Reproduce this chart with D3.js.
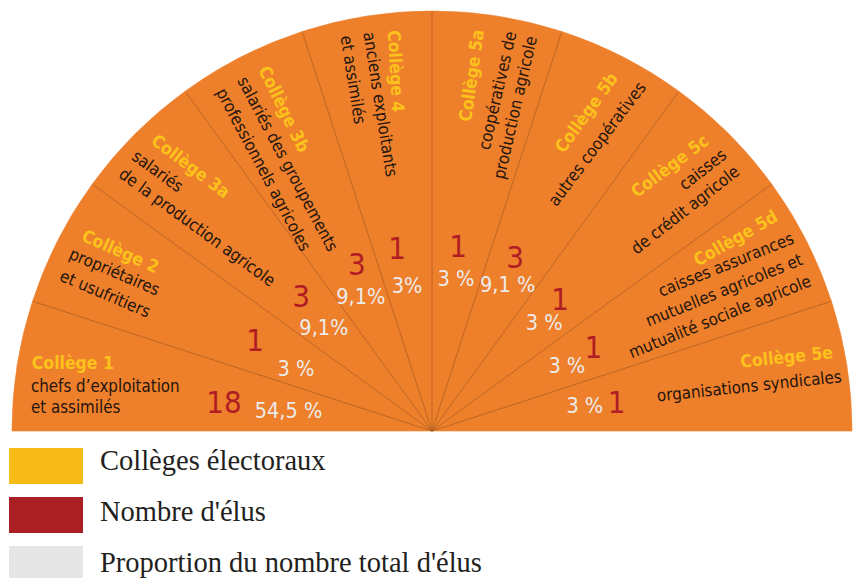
<!DOCTYPE html>
<html>
<head>
<meta charset="utf-8">
<script src="https://cdn.jsdelivr.net/npm/d3@7"></script>
<style>
  body { margin: 0; background: #fff; }
  svg { display: block; }
</style>
</head>
<body>
<div id="wrapper"></div>
<script>
// DATA
const colleges = ["Collège 1", "Collège 2", "Collège 3a", "Collège 3b", "Collège 4",
  "Collège 5a", "Collège 5b", "Collège 5c", "Collège 5d", "Collège 5e"];
const descriptions = [
  ["chefs d’exploitation", "et assimilés"],
  ["propriétaires", "et usufritiers"],
  ["salariés", "de la production agricole"],
  ["salariés des groupements", "professionnels agricoles"],
  ["anciens exploitants", "et assimilés"],
  ["coopératives de", "production agricole"],
  ["autres coopératives"],
  ["caisses", "de crédit agricole"],
  ["caisses assurances", "mutuelles agricoles et", "mutualité sociale agricole"],
  ["organisations syndicales"]
];
const elus = [18, 1, 3, 3, 1, 1, 3, 1, 1, 1];
const pctLabels = ["54,5 %", "3 %", "9,1%", "9,1%", "3%", "3 %", "9,1 %", "3 %", "3 %", "3 %"];
const legendLabels = ["Collèges électoraux", "Nombre d'élus", "Proportion du nombre total d'élus"];

// LAYOUT (angle in degrees from the left edge, radius in px, rotation in degrees)
const titleLayout = [
  [8.8, 405, 0, "start"], [28.5, 400, 24, "start"], [45.6, 403, 37, "start"],
  [64.3, 401, 64, "start"], [83.7, 403, 87, "start"], [97.4, 404, -82, "end"],
  [117.9, 399, -54, "end"], [134, 400, -37, "end"], [148.7, 406, -30, "end"],
  [169.7, 408, -6, "end"]
];
const descLayout = [
  [5.6, 403, 0, 21.5], [25.4, 403, 23, 24], [42.1, 406, 36, 22],
  [60.9, 401, 62, 24], [80.2, 404, 81, 23], [102, 407, -77, 21],
  [122, 405, -53, 22], [137.2, 403, -38, 21], [152.6, 409, -22, 23],
  [173.2, 413, -6, 24]
];
const numLayout = [
  [7.9, 210], [27.2, 199], [45.9, 188], [65.8, 183], [79.2, 186],
  [98, 187], [115.5, 193], [134.1, 184], [152.4, 182], [171, 187]
];
const pctLayout = [
  [8.3, 145], [24.9, 150], [43.9, 150], [62.1, 152], [80.3, 148],
  [98.9, 155], [117.3, 165], [136, 156], [154, 150], [170.4, 155]
];

const colors = {
  orange: "#EE7F2B",
  divider: "#A2571F",
  yellow: "#FCC21C",
  red: "#B01E23",
  grey: "#ECECEC",
  text: "#24160F",
  legendYellow: "#F6BB17",
  legendRed: "#A91F24",
  legendGrey: "#E6E6E6"
};
const sansFont = "'DejaVu Sans Condensed', 'Liberation Sans Narrow', Roboto, sans-serif";

const width = 860, height = 578;
const center = { x: 432, y: 431 };
const radius = 420;

const svg = d3.select("#wrapper").append("svg")
  .attr("width", width)
  .attr("height", height);

svg.append("rect").attr("width", width).attr("height", height).attr("fill", "#fff");

const chart = svg.append("g")
  .attr("transform", `translate(${center.x},${center.y})`);

// SCALES
const angleScale = d3.scaleLinear().domain([0, 180]).range([-Math.PI / 2, Math.PI / 2]);
const polar = (deg, r) => d3.pointRadial(angleScale(deg), r);

const pie = d3.pie().value(() => 1).sort(null)
  .startAngle(-Math.PI / 2).endAngle(Math.PI / 2);
const arcs = pie(colleges);
const arc = d3.arc().innerRadius(0).outerRadius(radius);

// SECTORS
chart.selectAll(".sector")
  .data(arcs)
  .join("path")
  .attr("class", "sector")
  .attr("d", arc)
  .attr("fill", colors.orange)
  .attr("stroke", colors.orange)
  .attr("stroke-width", 0.6);

// divider lines
chart.selectAll(".divider")
  .data(arcs.slice(1))
  .join("line")
  .attr("class", "divider")
  .attr("x1", 0).attr("y1", 0)
  .attr("x2", d => d3.pointRadial(d.startAngle, radius - 1)[0])
  .attr("y2", d => d3.pointRadial(d.startAngle, radius - 1)[1])
  .attr("stroke", colors.divider)
  .attr("stroke-opacity", 0.75)
  .attr("stroke-width", 0.9);

// TITLES
chart.selectAll(".title")
  .data(colleges)
  .join("text")
  .attr("class", "title")
  .attr("transform", (d, i) => {
    const [x, y] = polar(titleLayout[i][0], titleLayout[i][1]);
    return `translate(${x},${y}) rotate(${titleLayout[i][2]})`;
  })
  .attr("text-anchor", (d, i) => titleLayout[i][3])
  .attr("font-family", sansFont)
  .attr("font-weight", "bold")
  .attr("font-size", 17.5)
  .attr("fill", colors.yellow)
  .text(d => d);

// DESCRIPTIONS
const descGroups = chart.selectAll(".desc")
  .data(descriptions)
  .join("text")
  .attr("class", "desc")
  .attr("transform", (d, i) => {
    const [x, y] = polar(descLayout[i][0], descLayout[i][1]);
    return `translate(${x},${y}) rotate(${descLayout[i][2]})`;
  })
  .attr("text-anchor", (d, i) => titleLayout[i][3])
  .attr("font-family", sansFont)
  .attr("font-size", 16.8)
  .attr("fill", colors.text);

descGroups.each(function(lines, i) {
  d3.select(this).selectAll("tspan")
    .data(lines)
    .join("tspan")
    .attr("x", 0)
    .attr("y", (l, j) => j * descLayout[i][3])
    .text(l => l);
});

// NUMBERS
chart.selectAll(".elus")
  .data(elus)
  .join("text")
  .attr("class", "elus")
  .attr("x", (d, i) => polar(numLayout[i][0], numLayout[i][1])[0])
  .attr("y", (d, i) => polar(numLayout[i][0], numLayout[i][1])[1])
  .attr("dy", "0.36em")
  .attr("text-anchor", "middle")
  .attr("font-family", sansFont)
  .attr("font-size", 31)
  .attr("fill", colors.red)
  .text(d => d);

chart.selectAll(".pct")
  .data(pctLabels)
  .join("text")
  .attr("class", "pct")
  .attr("x", (d, i) => polar(pctLayout[i][0], pctLayout[i][1])[0])
  .attr("y", (d, i) => polar(pctLayout[i][0], pctLayout[i][1])[1])
  .attr("dy", "0.36em")
  .attr("text-anchor", "middle")
  .attr("font-family", sansFont)
  .attr("font-size", 21.5)
  .attr("fill", colors.grey)
  .text(d => d);

// LEGEND
const legendColors = [colors.legendYellow, colors.legendRed, colors.legendGrey];
const legend = svg.append("g");
legend.selectAll("rect")
  .data(legendLabels)
  .join("rect")
  .attr("x", 9)
  .attr("y", (d, i) => 448 + i * 49)
  .attr("width", 74)
  .attr("height", 36)
  .attr("fill", (d, i) => legendColors[i]);

legend.selectAll("text")
  .data(legendLabels)
  .join("text")
  .attr("x", 100)
  .attr("y", (d, i) => 470 + i * 51)
  .attr("font-family", "'Liberation Serif', 'DejaVu Serif', serif")
  .attr("font-size", 28.5)
  .attr("fill", "#231F20")
  .text(d => d);
</script>
</body>
</html>
